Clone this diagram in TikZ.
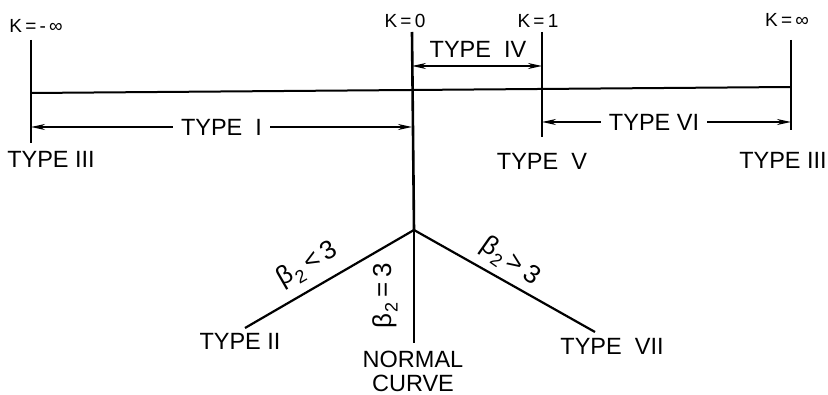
\documentclass[tikz,border=0pt]{standalone}
\usepackage{fontspec}
\setmainfont{Liberation Sans}
\usetikzlibrary{arrows.meta}
\tikzset{
  bar/.style={line width=2.6pt},
  axis/.style={line width=2pt},
  branch/.style={line width=2.2pt},
  span/.style={line width=1.6pt,{Stealth[length=14pt,width=6pt]}-{Stealth[length=14pt,width=6pt]}},
  klab/.style={font=\fontsize{19}{21}\selectfont,inner sep=0pt},
  tlab/.style={font=\fontsize{23.5}{26}\selectfont,inner sep=0pt},
  glab/.style={font=\fontsize{26}{28}\selectfont,inner sep=0pt},
  gap/.style={fill=white,inner xsep=8pt,inner ysep=2pt}
}
\newcommand{\betalab}[1]{β\kern1pt\raisebox{-0.25em}{\fontsize{18}{20}\selectfont 2}\kern5pt#1\kern5pt3}
\begin{document}
\begin{tikzpicture}[x=1pt,y=-1pt]
\useasboundingbox (0,0) rectangle (828,395);
% coordinates
\coordinate (Lt) at (31,40);   \coordinate (Lb) at (31,143);
\coordinate (Ct) at (412,32);  \coordinate (J)  at (414,230);
\coordinate (Nb) at (414,343);
\coordinate (Ot) at (542,32);  \coordinate (Ob) at (542,137);
\coordinate (It) at (791,40);  \coordinate (Ib) at (791,130);
\coordinate (Hl) at (31,93);   \coordinate (Hr) at (791,87);
\coordinate (IVa) at (412,66); \coordinate (IVb) at (542,66);
\coordinate (Ia) at (31,127);  \coordinate (Ib2) at (412,127);
\coordinate (VIa) at (542,122); \coordinate (VIb) at (791,122);
\coordinate (Bl) at (245,328); \coordinate (Br) at (595,332);
% lines
\draw[bar] (Lt) -- (Lb);
\draw[bar] (Ct) -- (J);
\draw[bar] (J) -- (Nb);
\draw[bar] (Ot) -- (Ob);
\draw[bar] (It) -- (Ib);
\draw[axis] (Hl) -- (Hr);
\draw[branch] (J) -- (Bl);
\draw[branch] (J) -- (Br);
% spans
\draw[span] (IVa) -- (IVb);
\draw[span] (Ia) -- node[tlab,gap] (tI) {TYPE\ \ I} (Ib2);
\draw[span] (VIa) -- node[tlab,gap,pos=0.45] (tVI) {TYPE VI} (VIb);
% labels
\node[klab] (kmi) at (36,26) {K\,=\,-\,∞};
\node[klab] (k0) at (405,21) {K\,=\,0};
\node[klab] (k1) at (538,21) {K\,=\,1};
\node[klab] (kin) at (787,20) {K\,=\,∞};
\node[tlab] (tIV) at (478,49) {TYPE\ \ IV};
\node[tlab] (tIIIl) at (51,159) {TYPE III};
\node[tlab] (tV) at (542,161) {TYPE\ \ V};
\node[tlab] (tIIIr) at (783,160) {TYPE III};
\node[tlab] (tII) at (240,341) {TYPE II};
\node[tlab] (tVII) at (612,346) {TYPE\ \ VII};
\node[tlab] (tN) at (413,359) {NORMAL};
\node[tlab] (tC) at (413,383) {CURVE};
\node[glab,rotate=30] (gl) at (308,265) {\betalab{<}};
\node[glab,rotate=90] (gm) at (385,296) {\betalab{=}};
\node[glab,rotate=-35] (gr) at (510,262) {\betalab{>}};
\end{tikzpicture}
\end{document}
